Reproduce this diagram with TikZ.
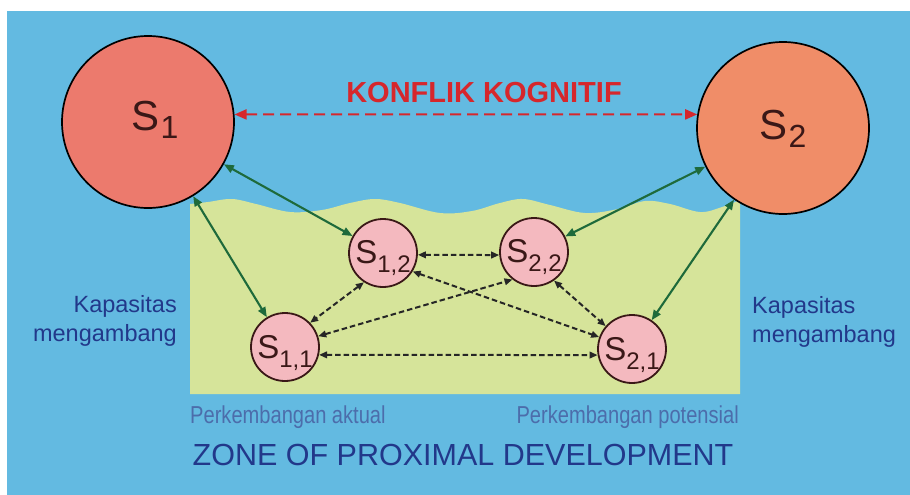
\documentclass[tikz,border=0pt]{standalone}
\usepackage{fontspec}
\setmainfont{Liberation Sans}
\newfontfamily\narrowfont{Liberation Sans}[FakeStretch=0.82]
\usetikzlibrary{arrows.meta}

\definecolor{skyblue}{HTML}{63BAE1}
\definecolor{meadow}{HTML}{D6E49A}
\definecolor{salmonA}{HTML}{EC7A6D}
\definecolor{salmonB}{HTML}{F08D68}
\definecolor{blush}{HTML}{F4B9BF}
\definecolor{ink}{HTML}{3A1817}
\definecolor{forest}{HTML}{1E6A3B}
\definecolor{alarm}{HTML}{D6272C}
\definecolor{navy}{HTML}{22388A}
\definecolor{steel}{HTML}{4C6DAB}

\tikzset{
  bigstate/.style={circle, draw=black, line width=1.7pt, minimum size=172pt,
    inner sep=0pt, text=ink, text height=0pt, text depth=0pt},
  substate/.style={circle, draw=ink, line width=1.8pt, fill=blush, minimum size=68pt,
    inner sep=0pt, text=ink, text height=0pt, text depth=0pt},
  link/.style={forest, line width=2.1pt,
    {Triangle[length=10pt,width=8pt]}-{Triangle[length=10pt,width=8pt]}},
  peer/.style={black!85, line width=2pt, dash pattern=on 5.5pt off 3pt,
    {Triangle[length=8pt,width=6.5pt]}-{Triangle[length=8pt,width=6.5pt]}},
  clash/.style={alarm, line width=2pt, dash pattern=on 11pt off 6pt,
    {Triangle[length=12pt,width=10pt]}-{Triangle[length=12pt,width=10pt]}},
  sidetext/.style={inner sep=0pt, text=navy, font=\fontsize{23.5}{23.5}\selectfont},
  growtext/.style={inner sep=0pt, text=steel, font=\narrowfont\fontsize{24.5}{24.5}\selectfont}
}

\newcommand{\bigS}[1]{\fontsize{42}{42}\selectfont S\kern1pt\raisebox{-8pt}{\fontsize{32}{32}\selectfont #1}}
\newcommand{\smallS}[1]{\fontsize{33}{33}\selectfont S\raisebox{-9pt}{\fontsize{24}{24}\selectfont #1}}

\begin{document}
\begin{tikzpicture}[x=1pt, y=-1pt]
  \useasboundingbox (0,0) rectangle (910,495);
  \fill[white] (0,0) rectangle (910,495);
  \fill[skyblue] (7,11) rectangle (910,495);

  % zone of proximal development: field with a wavy upper edge
  \fill[meadow] (190,394) -- plot[smooth, tension=0.6] coordinates {
      (190,204) (208,202) (232,199) (256,204) (290,212) (322,210) (350,203)
      (375,199) (400,203) (440,213) (472,211) (500,203) (523,199) (550,205)
      (585,213) (618,209) (645,201) (670,204) (700,212) (722,207) (740,200)}
    -- (740,394) -- cycle;

  % learners and their sub-states
  \node[bigstate, fill=salmonA] (S1) at (148,122) {\hspace{14pt}\raisebox{-8pt}{\bigS{1}}};
  \node[bigstate, fill=salmonB] (S2) at (783,128) {\raisebox{-11pt}{\bigS{2}}};
  \node[substate] (s12) at (383,253) {\raisebox{-10pt}{\smallS{1,2}}};
  \node[substate] (s11) at (285,347) {\raisebox{-11pt}{\smallS{1,1}}};
  \node[substate] (s22) at (534,252) {\raisebox{-10pt}{\smallS{2,2}}};
  \node[substate] (s21) at (632,349) {\raisebox{-11pt}{\smallS{2,1}}};

  % cognitive conflict between the two learners
  \draw[clash] (S1.5) -- (S2.171);
  \node[anchor=base, inner sep=0pt, text=alarm, font=\bfseries\fontsize{29}{29}\selectfont]
    (conflict) at (484,102) {KONFLIK KOGNITIF};

  % each learner to own sub-states
  \draw[link] (S1) -- (s12);
  \draw[link] (S1) -- (s11);
  \draw[link] (S2) -- (s22);
  \draw[link] (S2) -- (s21);

  % exchanges between sub-states
  \draw[peer] (s12.357) -- (s22.185);
  \draw[peer] (s12.237) -- (s11.44);
  \draw[peer] (s11.18) -- (s22.232);
  \draw[peer] (s12.328) -- (s21.160);
  \draw[peer] (s22.305) -- (s21.139);
  \draw[peer] (s11.347) -- (s21.190);

  % side labels
  \node[sidetext, anchor=base east] (capL1) at (177,312) {Kapasitas};
  \node[sidetext, anchor=base east] (capL2) at (177,341) {mengambang};
  \node[sidetext, anchor=base west] (capR1) at (752,313) {Kapasitas};
  \node[sidetext, anchor=base west] (capR2) at (752,342) {mengambang};

  % bottom labels
  \node[growtext, anchor=base west] (actual) at (190,423) {Perkembangan aktual};
  \node[growtext, anchor=base east] (potential) at (739,423) {Perkembangan potensial};
  \node[anchor=base, inner sep=0pt, text=navy, font=\fontsize{30.5}{30.5}\selectfont]
    (zpd) at (463,465) {ZONE OF PROXIMAL DEVELOPMENT};
\end{tikzpicture}
\end{document}
